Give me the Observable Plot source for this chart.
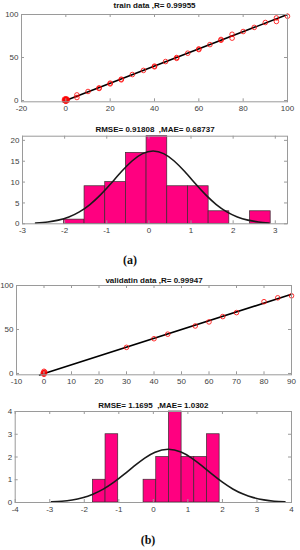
<!DOCTYPE html>
<html>
<head>
<meta charset="utf-8">
<script src="https://cdn.jsdelivr.net/npm/d3@7"></script>
<script src="https://cdn.jsdelivr.net/npm/@observablehq/plot@0.6"></script>
<style>
  html, body { margin: 0; padding: 0; background: #fff; }
  #wrap { position: relative; width: 300px; height: 550px; overflow: hidden; }
  #wrap svg { position: absolute; left: 0; overflow: visible; }
  .lab { position: absolute; font-family: "Liberation Serif", "DejaVu Serif", serif; font-weight: bold; font-size: 12px; color: #111; transform: translate(-50%, -50%); }
</style>
</head>
<body>
<div id="wrap"></div>
<script>
// ---------- data ----------
const trainTitle = "train data ,R= 0.99955";
const trainTarget = [0,0,0,0,0,-0.6,0.6,-0.6,0.6,0,0, 5,5,10,15,15,20,20,25,25,30,35,40,40,45,50,50,55,60,60,65,70,70,75,75,80,85,90,95,95,100];
const trainOutput = [-1,0,1,2,0.5,0,0,1.5,1.5,-0.5,1.5, 6.5,3.5,10.5,14.7,14,20.2,19.3,24.8,24,30.2,35,40,39.2,45.3,50,49,55,60,59.2,65,71,70,77,72.5,80.2,85,90.7,96,91.9,98];
const trainFitX = [-1.2, 100];
const trainFitY = [-1.2, 100];
const trainXTicks = [-20, 0, 20, 40, 60, 80, 100];
const trainYTicks = [0, 50, 100];

const trainErrTitle = "RMSE= 0.91808\u00a0\u00a0,MAE= 0.68737";
const trainBinEdges = [-2.018,-1.527,-1.036,-0.546,-0.055,0.436,0.927,1.418,1.909,2.400,2.891];
const trainCounts = [1, 9, 10, 17, 21, 9, 9, 3, 0, 3];
const trainCurveX = [-2.69,-2.4,-2.15,-1.9,-1.65,-1.4,-1.15,-0.9,-0.65,-0.4,-0.15,0.1,0.35,0.6,0.85,1.1,1.35,1.6,1.85,2.1,2.35,2.6,2.85];
const trainCurveY = [0.17,0.43,0.88,1.64,2.86,4.62,6.93,9.66,12.52,15.06,16.82,17.45,16.82,15.06,12.52,9.66,6.93,4.62,2.86,1.64,0.88,0.43,0.20];
const trainErrXTicks = [-3, -2, -1, 0, 1, 2, 3];
const trainErrYTicks = [0, 5, 10, 15, 20];

const validTitle = "validatin data ,R= 0.99947";
const validTarget = [0,0,0,0,-0.3,0.3, 30,40,45,55,60,65,70,80,85,90];
const validOutput = [-1,0,1,2.5,0.5,1.5, 29.7,39.5,44.7,54,58.6,64.7,69.2,81.6,86,88.3];
const validFitX = [-1.6, 90];
const validFitY = [-1.6, 90];
const validXTicks = [-10, 0, 10, 20, 30, 40, 50, 60, 70, 80, 90];
const validYTicks = [0, 50, 100];

const validErrTitle = "RMSE= 1.1695\u00a0\u00a0,MAE= 1.0302";
const validBinEdges = [-1.751,-1.384,-1.017,-0.650,-0.283,0.084,0.451,0.818,1.185,1.552,1.919];
const validCounts = [1, 3, 0, 0, 1, 2, 4, 2, 2, 3];
const validCurveX = [-2.95,-2.65,-2.35,-2.05,-1.75,-1.45,-1.15,-0.85,-0.55,-0.25,0.05,0.43,0.8,1.1,1.4,1.7,2.0,2.3,2.6,2.9,3.2,3.5,3.81];
const validCurveY = [0.027,0.057,0.113,0.210,0.364,0.586,0.881,1.232,1.607,1.953,2.212,2.34,2.218,1.963,1.619,1.244,0.892,0.595,0.370,0.215,0.116,0.058,0.027];
const validErrXTicks = [-4, -3, -2, -1, 0, 1, 2, 3, 4];
const validErrYTicks = [0, 1, 2, 3, 4];

// ---------- helpers ----------
const FONT = "'Liberation Sans', Arial, Helvetica, sans-serif";
const BOX = "#9a9a9a";
const TXT = "#404040";
const fmt = d => String(d);

function zipXY(xs, ys) { return xs.map((x, i) => ({x, y: ys[i]})); }
function bins(edges, counts) {
  return counts.map((c, i) => ({x1: edges[i], x2: edges[i + 1], y: c})).filter(d => d.y > 0);
}

function panel({top, height, ml, mr, mt, mb, xdom, ydom, xticks, yticks, title, titleDy, marks}) {
  const fh = height - mt - mb;
  const fw = 300 - ml - mr;
  const t = 3;
  const chart = Plot.plot({
    width: 300, height,
    marginLeft: ml, marginRight: mr, marginTop: mt, marginBottom: mb,
    style: {fontFamily: FONT, fontSize: "8px", color: TXT, background: "transparent", overflow: "visible"},
    x: {domain: xdom, ticks: xticks, tickFormat: fmt, tickSize: 0, tickPadding: 4, label: null},
    y: {domain: ydom, ticks: yticks, tickFormat: fmt, tickSize: 0, tickPadding: 3, label: null},
    marks: [
      ...marks,
      Plot.frame({stroke: BOX, strokeWidth: 1}),
      Plot.tickX(xticks, {x: d => d, insetTop: fh - t, stroke: BOX}),
      Plot.tickX(xticks, {x: d => d, insetBottom: fh - t, stroke: BOX}),
      Plot.tickY(yticks, {y: d => d, insetRight: fw - t, stroke: BOX}),
      Plot.tickY(yticks, {y: d => d, insetLeft: fw - t, stroke: BOX}),
      Plot.text([title], {frameAnchor: "top", dy: titleDy, text: d => d, lineAnchor: "middle",
        fontWeight: "bold", fontSize: 8, fill: "#111"})
    ]
  });
  chart.style.top = top + "px";
  return chart;
}

const wrap = document.getElementById("wrap");

// (a) train scatter
wrap.appendChild(panel({
  top: 0, height: 115, ml: 21, mr: 13, mt: 14, mb: 13.7,
  xdom: [-20, 100], ydom: [-1.5, 100], xticks: trainXTicks, yticks: trainYTicks,
  title: trainTitle, titleDy: -8.8,
  marks: [
    Plot.line(zipXY(trainFitX, trainFitY), {x: "x", y: "y", stroke: "#000", strokeWidth: 1.6}),
    Plot.dot(zipXY(trainTarget, trainOutput), {x: "x", y: "y", r: 2.3, stroke: "#ff0000", strokeWidth: 0.8})
  ]
}));

// (a) train error histogram
wrap.appendChild(panel({
  top: 120, height: 118, ml: 22, mr: 13, mt: 15.7, mb: 14.7,
  xdom: [-3, 3.29], ydom: [0, 21], xticks: trainErrXTicks, yticks: trainErrYTicks,
  title: trainErrTitle, titleDy: -6.5,
  marks: [
    Plot.rectY(bins(trainBinEdges, trainCounts), {x1: "x1", x2: "x2", y: "y", fill: "#ff0080", stroke: "#3a2a30", strokeWidth: 0.7}),
    Plot.line(zipXY(trainCurveX, trainCurveY), {x: "x", y: "y", curve: "natural", stroke: "#1a1a1a", strokeWidth: 1.6})
  ]
}));

// (b) validation scatter
wrap.appendChild(panel({
  top: 270, height: 118, ml: 16, mr: 9, mt: 15, mb: 13.7,
  xdom: [-10, 90], ydom: [-1.5, 100], xticks: validXTicks, yticks: validYTicks,
  title: validTitle, titleDy: -4.8,
  marks: [
    Plot.line(zipXY(validFitX, validFitY), {x: "x", y: "y", stroke: "#000", strokeWidth: 1.6}),
    Plot.dot(zipXY(validTarget, validOutput), {x: "x", y: "y", r: 2.3, stroke: "#ff0000", strokeWidth: 0.8})
  ]
}));

// (b) validation error histogram
wrap.appendChild(panel({
  top: 395, height: 121, ml: 14.7, mr: 9, mt: 16, mb: 14,
  xdom: [-4, 4], ydom: [0, 4], xticks: validErrXTicks, yticks: validErrYTicks,
  title: validErrTitle, titleDy: -6,
  marks: [
    Plot.rectY(bins(validBinEdges, validCounts), {x1: "x1", x2: "x2", y: "y", fill: "#ff0080", stroke: "#3a2a30", strokeWidth: 0.7}),
    Plot.line(zipXY(validCurveX, validCurveY), {x: "x", y: "y", curve: "natural", stroke: "#1a1a1a", strokeWidth: 1.6})
  ]
}));

// sub-figure labels
for (const [txt, x, y] of [["(a)", 130, 260], ["(b)", 148, 540]]) {
  const d = document.createElement("div");
  d.className = "lab";
  d.textContent = txt;
  d.style.left = x + "px";
  d.style.top = y + "px";
  wrap.appendChild(d);
}
</script>
</body>
</html>
